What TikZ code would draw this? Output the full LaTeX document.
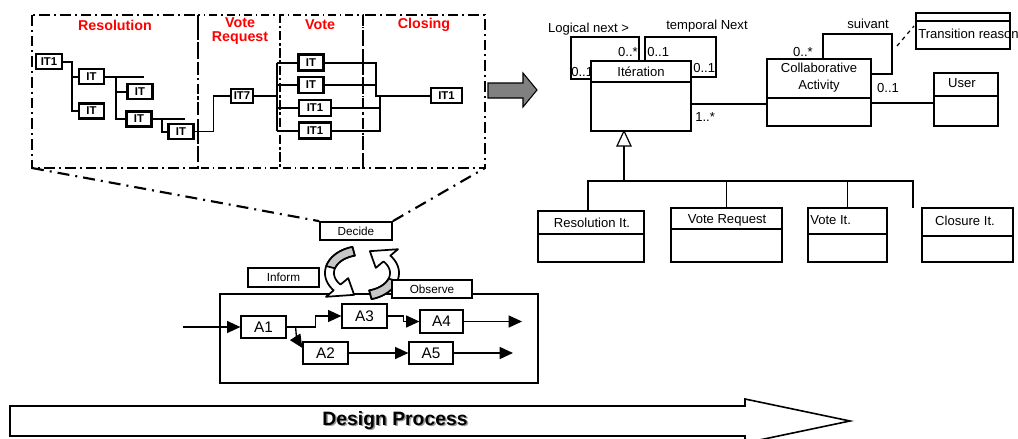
\documentclass[tikz,border=0pt]{standalone}
\usepackage{fontspec}
\setmainfont{Liberation Sans}
\usetikzlibrary{arrows.meta,calc}

% UML class box: name, x1, y1, x2, y2, y of the compartment line
\newcommand\umlclass[6]{%
  \node[umlbox, minimum width={(#4-#2)*0.75pt}, minimum height={(#5-#3)*0.75pt}] (#1) at ({(#2+#4)/2},{(#3+#5)/2}) {};
  \draw[uml] (#2,#6) -- (#4,#6);}

\begin{document}
\begin{tikzpicture}[x=0.75pt,y=-0.75pt,
  lbl/.style={font=\fontsize{9.8}{11}\selectfont, inner sep=0pt},
  sechead/.style={text=red, font=\bfseries\fontsize{10.7}{10.5}\selectfont, align=center, inner sep=0pt},
  itbox/.style={draw, line width=1.7pt, fill=white, inner sep=0pt, minimum width=18.75pt, minimum height=11.25pt, font=\bfseries\fontsize{8.5}{9}\selectfont},
  itwide/.style={itbox, minimum width=24pt, minimum height=12pt},
  tree/.style={line width=1.5pt},
  secthick/.style={line width=1.8pt, dash pattern=on 8pt off 3pt on 1.5pt off 3pt},
  secthin/.style={line width=1pt, dash pattern=on 6pt off 3pt on 1pt off 3pt},
  zoomline/.style={line width=1.6pt, dash pattern=on 9pt off 4.5pt on 1.5pt off 4.5pt},
  umlbox/.style={draw, line width=0.9pt, fill=white, inner sep=0pt, outer sep=0pt},
  uml/.style={line width=0.9pt},
  stepbox/.style={draw, line width=1.3pt, fill=white, inner sep=0pt, font=\fontsize{8.8}{9}\selectfont},
  actbox/.style={draw, line width=0.9pt, fill=white, inner sep=0pt, font=\fontsize{11.5}{12}\selectfont},
  flow/.style={line width=1pt, -{Triangle[length=10pt,width=9pt]}},
  ring/.style={line width=1.3pt, line join=round},
]
\useasboundingbox (0,0) rectangle (1018,439);

% ---------- iteration sequence, split into phases ----------
\draw[secthin] (198,15) rectangle (280,168);
\draw[secthin] (280,15) rectangle (363,168);
\draw[secthick] (32,15) rectangle (198,168);
\draw[secthick] (363,15) rectangle (485,168);
\coordinate (zl) at (32,168);
\coordinate (zr) at (485,168);

\node[sechead] at (115,25) {Resolution};
\node[sechead] at (240,31) {Vote\\Request};
\node[sechead] at (320,25) {Vote};
\node[sechead] at (424,25) {Closing};

\node[itbox, minimum width=19.5pt] (r1) at (49,61.5) {IT1};
\node[itbox] (r2) at (91.5,76.5) {IT};
\node[itbox] (r3) at (91.5,111) {IT};
\node[itbox] (r4) at (140,91.5) {IT};
\node[itbox] (r5) at (139,119) {IT};
\node[itbox] (r6) at (181,131.5) {IT};
\node[itbox, line width=1pt, minimum width=16.5pt, minimum height=10.5pt] (it7) at (242,96) {IT7};
\node[itbox, minimum height=12pt] (v1) at (311,62.5) {IT};
\node[itbox, minimum height=12pt] (v2) at (311,85) {IT};
\node[itwide] (v3) at (315,108) {IT1};
\node[itwide] (v4) at (315,130.5) {IT1};
\node[itwide, minimum width=23.25pt, minimum height=11.25pt] (c1) at (446.5,95.5) {IT1};

\draw[tree] (r1.east) -- ++(9,0) |- (r3.west);
\draw[tree] (r1.east) ++(9,0) |- (r2.west);
\coordinate (e1) at (144,76.5);
\draw[tree] (r2.east) -- (e1);
\draw[tree] (r2.east) ++(11,0) |- (r5.west);
\draw[tree] (r2.east) ++(11,0) |- (r4.west);
\coordinate (e2) at (185,119);
\draw[tree] (r5.east) -- (e2);
\draw[tree] (r5.east) ++(9,0) |- (r6.west);
\draw[line width=1pt] (r6.east) -- ++(19,0) |- (it7.west);
\draw[tree] (it7.east) -- ++(23,0) coordinate (vb);
\draw[tree] (vb |- v1.west) -- (vb |- v4.west);
\foreach \n in {v1,v2,v3,v4} \draw[tree] (vb |- \n.west) -- (\n.west);
\coordinate (ja) at ($(c1.west)+(-54,0)$);
\coordinate (jb) at ($(c1.west)+(-50,0)$);
\draw[tree] (v1.east) -| (ja) -- (c1.west);
\draw[tree] (v2.east) -| (ja);
\draw[tree] (v3.east) -| (jb);
\draw[tree] (v4.east) -| (jb);

% transition arrow towards the model
\filldraw[fill=black!50, line width=0.8pt] (488,83) -- (523,83) -- (523,73) -- (537,90) -- (523,107) -- (523,98) -- (488,98) -- cycle;

% ---------- class diagram ----------
\node[lbl, anchor=west] at (571,72) {0..1};
\umlclass{iter}{591}{61}{691}{131}{82}
\node[lbl] at (641,72) {Itération};
\umlclass{collab}{767}{59}{871}{126}{98}
\node[lbl, align=center] at (819,77.5) {Collaborative\\[2pt]Activity};
\umlclass{user}{934}{73}{998}{126}{96}
\node[lbl] at (962,83) {User};
\umlclass{trans}{916}{13}{1010}{49}{21}
\node[lbl, anchor=west] at (918,34) {Transition reason};
\umlclass{res}{538}{211}{644}{262}{234}
\node[lbl] at (592,223) {Resolution It.};
\umlclass{vreq}{671}{208}{782}{262}{229}
\node[lbl] at (727,220) {Vote Request};
\umlclass{vit}{808}{208}{887}{262}{234}
\node[lbl, anchor=west] at (810,220) {Vote It.};
\umlclass{clos}{922}{208}{1013}{262}{236}
\node[lbl] at (965,221) {Closure It.};

% reflexive associations
\draw[uml] ($(iter.north west)+(0,18)$) -| ++(-20,-42) -| ($(iter.north west)+(48,0)$);
\node[lbl] at (588.5,29) {Logical next >};
\node[lbl, anchor=east] at (638,52) {0..*};
\draw[uml] ($(iter.north west)+(54,0)$) |- ++(71,-24) |- ($(iter.north east)+(0,16)$);
\node[lbl] at (707,26) {temporal Next};
\node[lbl, anchor=west] at (647,52) {0..1};
\node[lbl, anchor=west] at (693,68) {0..1};

\draw[uml] ($(collab.north west)+(56,0)$) |- ++(69,-25) |- ($(collab.north east)+(0,15)$);
\node[lbl] at (868,24) {suivant};
\node[lbl] at (803,52) {0..*};
\coordinate (dq) at (897,46);
\draw[uml, dashed] (dq) -- ($(trans.south west)+(-2,-23)$);

% plain associations
\draw[uml] ($(iter.east)+(0,8)$) coordinate (as1) -- (as1 -| collab.west);
\node[lbl, anchor=west] at (695,117) {1..*};
\draw[uml] ($(collab.east)+(0,10.5)$) coordinate (as2) -- (as2 -| user.west);
\node[lbl] at (888,88) {0..1};

% specialisation
\coordinate (tapex) at ($(iter.south west)+(33,0)$);
\draw[uml, fill=white] (tapex) -- ++(-7,15) -- ++(14,0) -- cycle;
\draw[uml] ($(tapex)+(0,15)$) -- ++(0,35) coordinate (hb);
\draw[uml] ($(res.north west)+(50,0)$) |- ($(clos.north west)+(-9,-27)$) -- ($(clos.north west)+(-9,0)$);
\draw[uml] (vreq.north) -- (vreq.north |- hb);
\draw[uml] (vit.north) -- (vit.north |- hb);

% ---------- activity loop ----------
\draw[line width=0.9pt] (220,294) rectangle (538,383);

\def\cx{362}\def\cy{273}
\filldraw[ring, fill=white]
  plot[domain=255:140, samples=30] ({\cx+37*cos(\x)},{\cy+27*sin(\x)})
  -- ({\cx+47*cos(140)},{\cy+37*sin(140)})
  -- ({\cx+32.5*cos(104)},{\cy+22.5*sin(104)})
  -- ({\cx+18*cos(140)},{\cy+8*sin(140)})
  -- plot[domain=140:255, samples=30] ({\cx+28*cos(\x)},{\cy+18*sin(\x)})
  -- cycle;
\filldraw[ring, fill=black!22]
  plot[domain=255:195, samples=20] ({\cx+37*cos(\x)},{\cy+27*sin(\x)})
  -- plot[domain=195:255, samples=20] ({\cx+28*cos(\x)},{\cy+18*sin(\x)}) -- cycle;
\filldraw[ring, fill=white]
  plot[domain=75:-40, samples=30] ({\cx+37*cos(\x)},{\cy+27*sin(\x)})
  -- ({\cx+47*cos(-40)},{\cy+37*sin(-40)})
  -- ({\cx+32.5*cos(-76)},{\cy+22.5*sin(-76)})
  -- ({\cx+18*cos(-40)},{\cy+8*sin(-40)})
  -- plot[domain=-40:75, samples=30] ({\cx+28*cos(\x)},{\cy+18*sin(\x)})
  -- cycle;
\filldraw[ring, fill=black!22]
  plot[domain=75:18, samples=20] ({\cx+37*cos(\x)},{\cy+27*sin(\x)})
  -- plot[domain=18:75, samples=20] ({\cx+28*cos(\x)},{\cy+18*sin(\x)}) -- cycle;

\node[stepbox, minimum width=54pt, minimum height=13.5pt] (decide) at (356,231) {Decide};
\node[stepbox, minimum width=53.25pt, minimum height=14.25pt] (inform) at (283.5,277.5) {Inform};
\node[stepbox, minimum width=60pt, minimum height=13.5pt] (observe) at (432,289) {Observe};

\draw[zoomline] (zl) -- (decide.north west);
\draw[zoomline] (decide.north east) -- (zr);

\node[actbox, minimum width=33.75pt, minimum height=16.5pt] (a1) at (263.5,327) {A1};
\node[actbox, minimum width=33.75pt, minimum height=18pt] (a3) at (364.5,316) {A3};
\node[actbox, minimum width=32.25pt, minimum height=17.25pt] (a4) at (441.5,321.5) {A4};
\node[actbox, minimum width=33.75pt, minimum height=16.5pt] (a2) at (325.5,353) {A2};
\node[actbox, minimum width=33pt, minimum height=16.5pt] (a5) at (431,353) {A5};

\coordinate (pin) at (183,327);
\coordinate (out1) at (522,321.5);
\coordinate (out2) at (513,353);
\draw[flow] (pin) -- (a1.west);
\draw[flow] (a1.east) -- ++(29,0) |- (a3.west);
\draw[flow] (a1.east) ++(9,0) -- ++(1,12) -- ($(a2.west)+(0,-5)$);
\draw[flow] (a3.east) -- ++(16,0) |- (a4.west);
\draw[flow] (a4.east) -- (out1);
\draw[flow] (a2.east) -- (a5.west);
\draw[flow] (a5.east) -- (out2);

% ---------- design process ----------
\draw[line width=1.2pt, fill=white] (10,406) -- (745,406) -- (745,399) -- (850,421) -- (745,443) -- (745,436) -- (10,436) -- cycle;
\node[font=\bfseries\fontsize{14.5}{15}\selectfont, text=black!40] at (396.5,422) {Design Process};
\node[font=\bfseries\fontsize{14.5}{15}\selectfont] (dp) at (395,420.5) {Design Process};
\end{tikzpicture}
\end{document}
